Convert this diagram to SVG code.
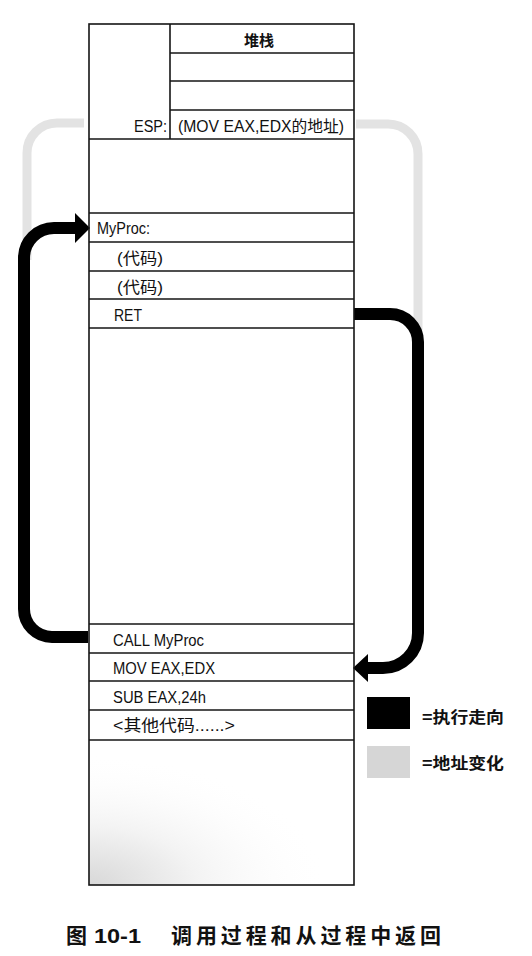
<svg xmlns="http://www.w3.org/2000/svg" width="532" height="956" viewBox="0 0 532 956">
<style>
.ln{stroke:#151515;stroke-width:1.6;fill:none}
.t{font-family:"Liberation Sans","Noto Sans CJK SC",sans-serif;font-size:16px;fill:#111}
.cj{font-family:"Noto Sans CJK SC",sans-serif;font-size:15px;font-weight:bold;fill:#111}
.blk{stroke:#000;stroke-width:12;fill:none}
.gry{stroke:#e3e3e3;stroke-width:9;fill:none}
</style>
<defs>
<radialGradient id="tex" cx="0" cy="1" r="0.9">
<stop offset="0" stop-color="#d8d8d8"/>
<stop offset="0.45" stop-color="#f3f3f3"/>
<stop offset="1" stop-color="#fff" stop-opacity="0"/>
</radialGradient>
</defs>
<rect width="532" height="956" fill="#fff"/>

<g id="connectors">
<path class="gry" d="M84 123 H57 A30 30 0 0 0 27 153 V260"/>
<path class="gry" d="M356 124 H388 A30 30 0 0 1 418 154 V340"/>
<path class="blk" d="M88 637 H52 A28 28 0 0 1 24 609 V258 A30 30 0 0 1 54 228 H77"/>
<polygon points="90,228 75,213 75,243" fill="#000"/>
<path class="blk" d="M354 314 H390 A28 28 0 0 1 418 342 V633 A35 35 0 0 1 383 668 H366"/>
<polygon points="353,668 368,654 368,682" fill="#000"/>
</g>

<g id="stack">
<rect x="89" y="740" width="265" height="145" fill="url(#tex)"/>
<rect x="89" y="24" width="265" height="861" class="ln"/>
<line x1="170" y1="24" x2="170" y2="139" class="ln"/>
<line x1="170" y1="53" x2="354" y2="53" class="ln"/>
<line x1="170" y1="81" x2="354" y2="81" class="ln"/>
<line x1="170" y1="110" x2="354" y2="110" class="ln"/>
<line x1="89" y1="139" x2="354" y2="139" class="ln"/>
<text class="cj" x="259" y="46" text-anchor="middle">堆栈</text>
<text class="t" x="167" y="132" text-anchor="end" textLength="33" lengthAdjust="spacingAndGlyphs">ESP:</text>
<text class="t" x="178" y="132" textLength="166" lengthAdjust="spacingAndGlyphs">(MOV EAX,EDX的地址)</text>
</g>

<g id="proc">
<line x1="89" y1="213" x2="354" y2="213" class="ln"/>
<line x1="89" y1="242" x2="354" y2="242" class="ln"/>
<line x1="89" y1="271" x2="354" y2="271" class="ln"/>
<line x1="89" y1="299" x2="354" y2="299" class="ln"/>
<line x1="89" y1="328" x2="354" y2="328" class="ln"/>
<text class="t" x="97" y="234" textLength="53" lengthAdjust="spacingAndGlyphs">MyProc:</text>
<text class="t" x="117" y="264" textLength="46" lengthAdjust="spacingAndGlyphs">(代码)</text>
<text class="t" x="117" y="293" textLength="46" lengthAdjust="spacingAndGlyphs">(代码)</text>
<text class="t" x="114" y="321" textLength="28" lengthAdjust="spacingAndGlyphs">RET</text>
</g>

<g id="main">
<line x1="89" y1="624" x2="354" y2="624" class="ln"/>
<line x1="89" y1="653" x2="354" y2="653" class="ln"/>
<line x1="89" y1="681" x2="354" y2="681" class="ln"/>
<line x1="89" y1="710" x2="354" y2="710" class="ln"/>
<line x1="89" y1="740" x2="354" y2="740" class="ln"/>
<text class="t" x="113" y="646" textLength="91" lengthAdjust="spacingAndGlyphs">CALL MyProc</text>
<text class="t" x="113" y="674" textLength="102" lengthAdjust="spacingAndGlyphs">MOV EAX,EDX</text>
<text class="t" x="113" y="703" textLength="93" lengthAdjust="spacingAndGlyphs">SUB EAX,24h</text>
<text class="t" x="113" y="731" textLength="122" lengthAdjust="spacingAndGlyphs">&lt;其他代码......&gt;</text>
</g>

<g id="legend">
<rect x="367" y="697" width="43" height="32" fill="#000"/>
<text class="cj" x="422" y="723" style="font-size:16px" textLength="82" lengthAdjust="spacingAndGlyphs">=执行走向</text>
<rect x="367" y="746" width="43" height="32" fill="#d6d6d6"/>
<text class="cj" x="422" y="769" style="font-size:16px" textLength="82" lengthAdjust="spacingAndGlyphs">=地址变化</text>
</g>

<g id="caption">
<text class="cj" x="66" y="943" style="font-size:21px">图</text>
<text class="t" x="94" y="943" style="font-size:21px;font-weight:bold" textLength="47" lengthAdjust="spacingAndGlyphs">10-1</text>
<text class="cj" x="171" y="943" style="font-size:21px" textLength="270" lengthAdjust="spacing">调用过程和从过程中返回</text>
</g>
</svg>
